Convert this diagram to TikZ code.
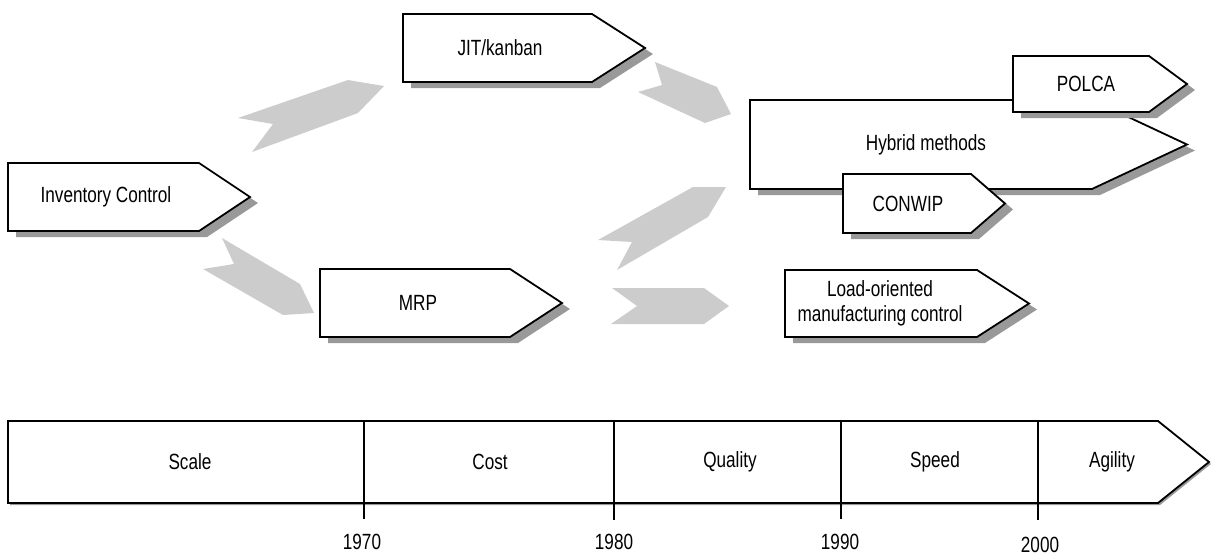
\documentclass[tikz,border=0pt]{standalone}
\usepackage{fontspec}
\setmainfont{Liberation Sans}[FakeStretch=0.78]
\definecolor{flowgray}{HTML}{CCCCCC}
\definecolor{shadowgray}{HTML}{999999}
% pentagon tag with drop shadow: name, left, top, corner x, tip x, bottom, text x, text
\newcommand{\tagbox}[8]{%
  \fill[boxshadow,shift={(8,6)}] (#2,#3) -- (#4,#3) -- (#5,{(#3+#6)/2}) -- (#4,#6) -- (#2,#6) -- cycle;
  \draw[boxline] (#2,#3) -- (#4,#3) -- (#5,{(#3+#6)/2}) -- (#4,#6) -- (#2,#6) -- cycle;
  \node[lbl] (#1) at (#7,{(#3+#6)/2}) {#8};
}
\begin{document}
\begin{tikzpicture}[x=1pt,y=-1pt,
  flow/.style={fill=flowgray},
  boxline/.style={draw=black,line width=1.8pt,fill=white,line join=miter},
  boxshadow/.style={fill=shadowgray},
  lbl/.style={font=\fontsize{22}{25}\selectfont,inner sep=0pt,align=center},
  tick/.style={line width=1.5pt},
]
\useasboundingbox (0,0) rectangle (1211,557);

% flow chevrons
\fill[flow] (238,118) -- (348,80) -- (384,86) -- (358,113) -- (252,152) -- (273,124) -- cycle;
\fill[flow] (655,62) -- (717,87) -- (731,114) -- (705,123) -- (638,92) -- (662,85) -- cycle;
\fill[flow] (222,238) -- (300,284) -- (314,313) -- (283,315) -- (203,269) -- (234,264) -- cycle;
\fill[flow] (598,240) -- (693,187) -- (726,187) -- (708,217) -- (617,270) -- (632,242) -- cycle;
\fill[flow] (612,288) -- (704,288) -- (729,306) -- (704,324) -- (611,324) -- (637,306) -- cycle;

% method tags
\tagbox{inv}{8}{163}{199}{250}{231}{106}{Inventory Control}
\tagbox{jit}{403}{14}{592}{645}{82}{500}{JIT/kanban}
\tagbox{mrp}{320}{269}{510}{562}{337}{418}{MRP}
\tagbox{hyb}{750}{100}{1092}{1187}{189}{926}{Hybrid methods}
\tagbox{polca}{1013}{56}{1149}{1187}{112}{1086}{POLCA}
\tagbox{conwip}{843}{174}{971}{1005}{233}{908}{CONWIP}
\tagbox{loc}{785}{270}{977}{1029}{337}{880}{Load-oriented\\manufacturing control}

% time line
\fill[shadowgray,shift={(2,2)}] (8,421) -- (1158,421) -- (1209,462) -- (1158,503) -- (8,503) -- cycle;
\draw[boxline] (8,421) -- (1158,421) -- (1209,462) -- (1158,503) -- (8,503) -- cycle;
\draw[tick] (364,421) -- (364,519);
\draw[tick] (614,421) -- (614,520);
\draw[tick] (841,421) -- (841,519);
\draw[tick] (1038,421) -- (1038,520);

\node[lbl] (scale) at (190,462) {Scale};
\node[lbl] (cost) at (490,462) {Cost};
\node[lbl] (quality) at (730,462) {Quality};
\node[lbl] (speed) at (935,462) {Speed};
\node[lbl] (agility) at (1112,462) {Agility};

\node[lbl] (y1970) at (362,542) {1970};
\node[lbl] (y1980) at (614,542) {1980};
\node[lbl] (y1990) at (840,542) {1990};
\node[lbl] (y2000) at (1040,545) {2000};
\end{tikzpicture}
\end{document}
